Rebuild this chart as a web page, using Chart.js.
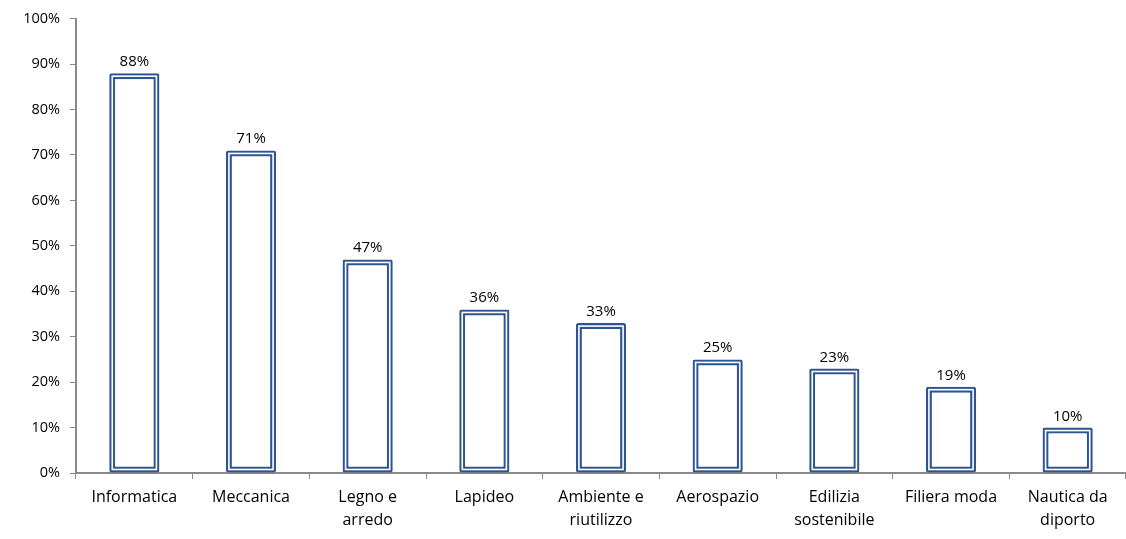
<!DOCTYPE html>
<html>
<head>
<meta charset="utf-8">
<script src="https://cdn.jsdelivr.net/npm/chart.js@4"></script>
<style>
  html, body { margin: 0; padding: 0; background: #fff; }
  #wrap { width: 1126px; height: 539px; }
</style>
</head>
<body>
<div id="wrap"><canvas id="chart"></canvas></div>
<script>
const categories = [
  "Informatica", "Meccanica", ["Legno e", "arredo"], "Lapideo",
  ["Ambiente e", "riutilizzo"], "Aerospazio", ["Edilizia", "sostenibile"],
  "Filiera moda", ["Nautica da", "diporto"]
];
const values = [88, 71, 47, 36, 33, 25, 23, 19, 10];

const FONT = "'Open Sans', Lato, sans-serif";
const BLUE = "#2E5591";
const AXIS = "#898989";

// white line inside the bar border -> double border look
const doubleBorder = {
  id: "doubleBorder",
  afterDatasetsDraw(chart) {
    const ctx = chart.ctx;
    chart.getDatasetMeta(0).data.forEach(bar => {
      const left = bar.x - bar.width / 2;
      const top = Math.min(bar.y, bar.base);
      const h = Math.abs(bar.base - bar.y);
      ctx.save();
      ctx.strokeStyle = "#fff";
      ctx.lineWidth = 1.6;
      ctx.strokeRect(left + 3, top + 3, bar.width - 6, h - 6);
      ctx.restore();
    });
  }
};

// value labels above bars
const valueLabels = {
  id: "valueLabels",
  afterDatasetsDraw(chart) {
    const ctx = chart.ctx;
    ctx.save();
    ctx.font = "15px " + FONT;
    ctx.fillStyle = "#000";
    ctx.textAlign = "center";
    ctx.textBaseline = "alphabetic";
    chart.getDatasetMeta(0).data.forEach((bar, i) => {
      ctx.fillText(values[i] + "%", bar.x, bar.y - 7);
    });
    ctx.restore();
  }
};

new Chart(document.getElementById("chart"), {
  type: "bar",
  data: {
    labels: categories,
    datasets: [{
      data: values,
      backgroundColor: "#fff",
      borderColor: BLUE,
      borderWidth: 6,
      borderRadius: 2,
      borderSkipped: false,
      barPercentage: 0.43,
      categoryPercentage: 1
    }]
  },
  options: {
    responsive: true,
    maintainAspectRatio: false,
    animation: false,
    layout: { padding: { top: 17, right: 0, left: 0, bottom: 0 } },
    plugins: {
      legend: { display: false },
      tooltip: { enabled: false }
    },
    scales: {
      x: {
        afterFit(scale) { scale.height = 66; },
        grid: {
          offset: true,
          drawOnChartArea: false,
          drawTicks: true,
          tickLength: 6,
          color: AXIS
        },
        border: { color: AXIS, width: 2 },
        ticks: {
          color: "#000",
          font: { size: 16, family: FONT, lineHeight: 1.45 },
          maxRotation: 0,
          autoSkip: false,
          padding: 7
        }
      },
      y: {
        min: 0,
        max: 100,
        afterFit(scale) { scale.width = 76; },
        grid: {
          drawOnChartArea: false,
          drawTicks: true,
          tickLength: 6,
          color: AXIS
        },
        border: { color: AXIS, width: 2 },
        ticks: {
          stepSize: 10,
          color: "#000",
          font: { size: 14.5, family: FONT },
          padding: 10,
          callback: v => v + "%"
        }
      }
    }
  },
  plugins: [doubleBorder, valueLabels]
});
</script>
</body>
</html>
